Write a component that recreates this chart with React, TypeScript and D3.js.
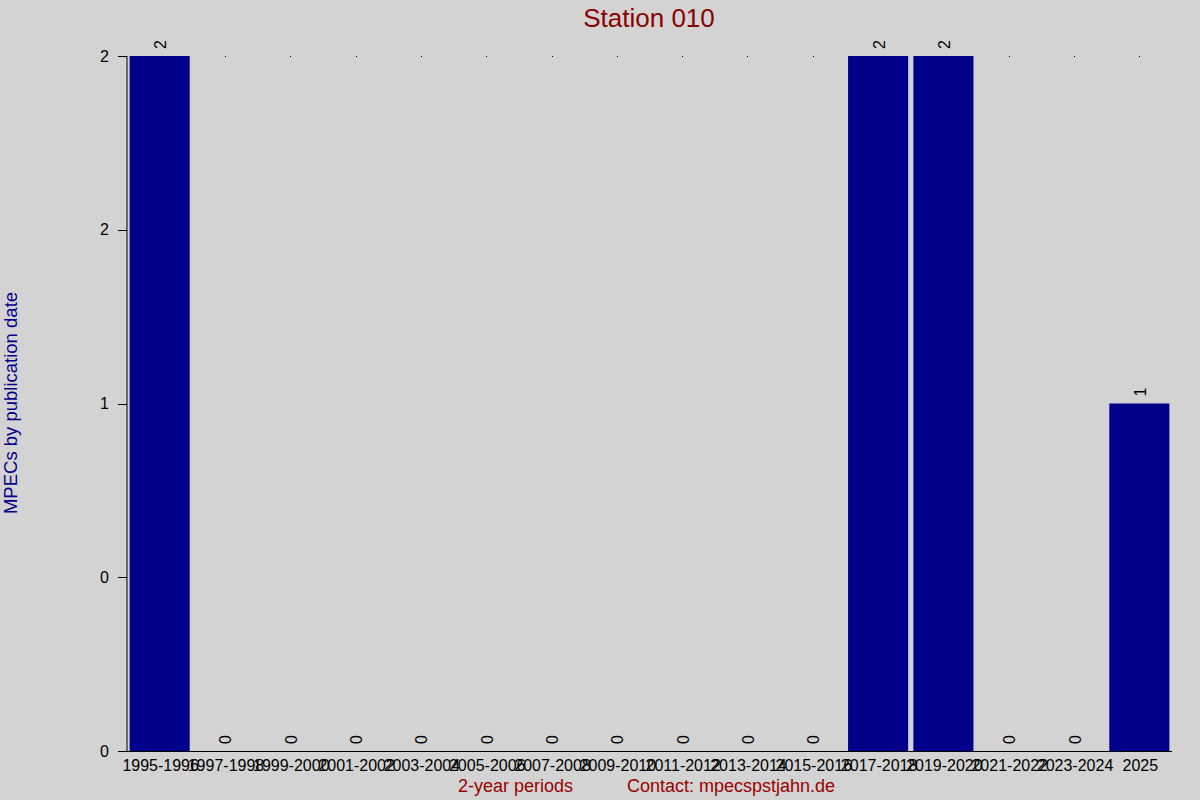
import React, { useEffect } from "react";
import * as d3 from "d3";

const categories = [
  "1995-1996", "1997-1998", "1999-2000", "2001-2002", "2003-2004", "2005-2006",
  "2007-2008", "2009-2010", "2011-2012", "2013-2014", "2015-2016", "2017-2018",
  "2019-2020", "2021-2022", "2023-2024", "2025",
];
const values = [2, 0, 0, 0, 0, 0, 0, 0, 0, 0, 0, 2, 2, 0, 0, 1];
const yTicks = [0, 0.5, 1, 1.5, 2];
const yTickLabels = ["0", "0", "1", "2", "2"];

const W = 1200;
const H = 800;
const left = 127;
const right = 1172;
const top = 56;
const bottom = 751;
const font = "Arial, 'Liberation Sans', Helvetica, sans-serif";

export default function App() {
  useEffect(() => {
    document.body.style.margin = "0";
  }, []);

  const x = d3
    .scaleBand<string>()
    .domain(categories)
    .range([left, right])
    .paddingInner(0.08)
    .paddingOuter(0.04);
  const y = d3.scaleLinear().domain([0, 2]).range([bottom, top]);
  const step = (right - left) / categories.length;
  const center = (i: number) => left + step * (i + 0.5);

  return (
    <svg width={W} height={H} style={{ position: "absolute", left: 0, top: 0, display: "block" }}>
      <rect x={0} y={0} width={W} height={H} fill="#d3d3d3" />
      <text x={649} y={27} textAnchor="middle" fontFamily={font} fontSize={26} fill="#8b0000">
        Station 010
      </text>
      {categories.map((c, i) => (
        <rect key={"dot" + c} x={Math.round(center(i))} y={top} width={1} height={1} fill="#000" />
      ))}
      {values.map((v, i) =>
        v > 0 ? (
          <rect
            key={"bar" + i}
            x={x(categories[i])!}
            y={y(v)}
            width={x.bandwidth()}
            height={y(0) - y(v)}
            fill="#00008b"
          />
        ) : null
      )}
      {values.map((v, i) => {
        const cx = center(i) + 1;
        const yy = y(v) - 7;
        return (
          <text
            key={"vl" + i}
            transform={`translate(${cx},${yy}) rotate(-90)`}
            textAnchor="start"
            dominantBaseline="central"
            fontFamily={font}
            fontSize={16}
            fill="#000"
          >
            {v}
          </text>
        );
      })}
      <line x1={left} x2={left} y1={top} y2={bottom} stroke="#000" strokeWidth={1} />
      {yTicks.map((t, i) => (
        <g key={"yt" + i}>
          <line x1={left - 9} x2={left} y1={Math.round(y(t)) + 0.5} y2={Math.round(y(t)) + 0.5} stroke="#000" />
          <text
            x={109}
            y={y(t)}
            textAnchor="end"
            dominantBaseline="central"
            fontFamily={font}
            fontSize={16}
            fill="#000"
          >
            {yTickLabels[i]}
          </text>
        </g>
      ))}
      <line x1={118} x2={right} y1={bottom + 0.5} y2={bottom + 0.5} stroke="#000" />
      {categories.map((c, i) => (
        <text
          key={"xl" + c}
          x={center(i) + 1}
          y={771}
          textAnchor="middle"
          fontFamily={font}
          fontSize={16}
          fill="#000"
        >
          {c}
        </text>
      ))}
      <text
        transform={`translate(17,403) rotate(-90)`}
        textAnchor="middle"
        fontFamily={font}
        fontSize={18.5}
        fill="#00008b"
      >
        MPECs by publication date
      </text>
      <text x={458} y={792} fontFamily={font} fontSize={18} fill="#990000">
        2-year periods
      </text>
      <text x={627} y={792} fontFamily={font} fontSize={18} fill="#990000">
        Contact: mpecspstjahn.de
      </text>
    </svg>
  );
}
